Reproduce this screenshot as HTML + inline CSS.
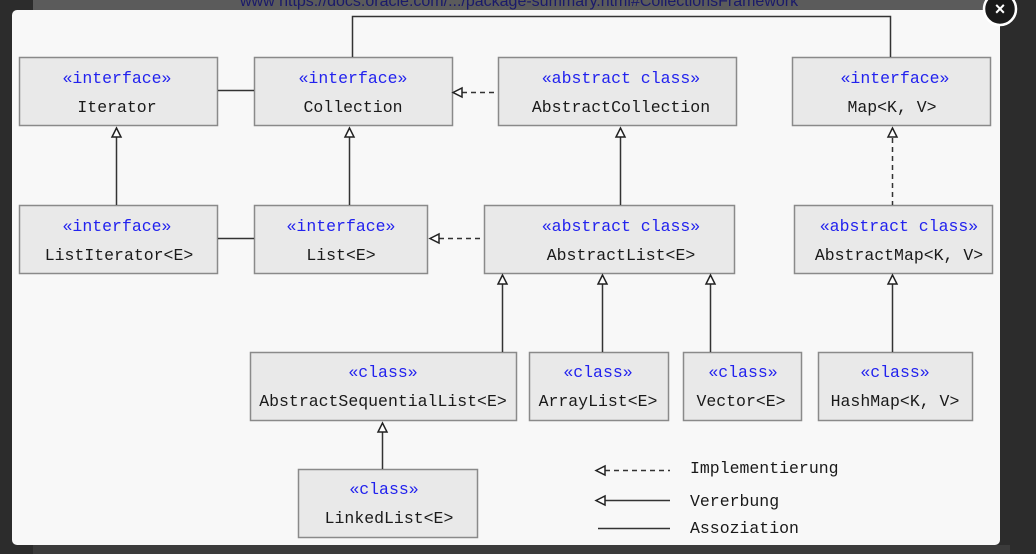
<!DOCTYPE html>
<html><head><meta charset="utf-8"><style>
html,body{margin:0;padding:0;width:1036px;height:554px;overflow:hidden;background:#2c2c2c}
svg{display:block}
</style></head><body>
<svg width="1036" height="554" xmlns="http://www.w3.org/2000/svg" font-family="'Liberation Mono', monospace" font-size="16.5">
<rect x="0" y="0" width="1036" height="554" fill="#2c2c2c"/>
<rect x="33" y="0" width="977" height="14" fill="#5b5b5b"/>
<rect x="33" y="545" width="977" height="9" fill="#3b3b3b"/>
<text x="240" y="6" font-family="'Liberation Sans',sans-serif" font-size="16" fill="#1a1a6a">www https://docs.oracle.com/.../package-summary.html#CollectionsFramework</text>
<rect x="12" y="10" width="988" height="535" rx="5" fill="#f8f8f8"/>
<circle cx="1000" cy="9" r="16" fill="#1a1a1a" stroke="#fff" stroke-width="2.5"/>
<text x="1000" y="15" text-anchor="middle" font-family="'Liberation Sans',sans-serif" font-weight="bold" font-size="18" fill="#fff">×</text>

<g fill="#e9e9e9" stroke="#8a8a8a" stroke-width="1.5">
<rect x="19.5" y="57.5" width="198" height="68"/>
<rect x="254.5" y="57.5" width="198" height="68"/>
<rect x="498.5" y="57.5" width="238" height="68"/>
<rect x="792.5" y="57.5" width="198" height="68"/>
<rect x="19.5" y="205.5" width="198" height="68"/>
<rect x="254.5" y="205.5" width="173" height="68"/>
<rect x="484.5" y="205.5" width="250" height="68"/>
<rect x="794.5" y="205.5" width="198" height="68"/>
<rect x="250.5" y="352.5" width="266" height="68"/>
<rect x="529.5" y="352.5" width="139" height="68"/>
<rect x="683.5" y="352.5" width="118" height="68"/>
<rect x="818.5" y="352.5" width="154" height="68"/>
<rect x="298.5" y="469.5" width="179" height="68"/>
</g>

<g fill="#2222ee" text-anchor="middle">
<text x="117" y="83">«interface»</text>
<text x="353" y="83">«interface»</text>
<text x="621" y="83">«abstract class»</text>
<text x="895" y="83">«interface»</text>
<text x="117" y="231">«interface»</text>
<text x="341" y="231">«interface»</text>
<text x="621" y="231">«abstract class»</text>
<text x="899" y="231">«abstract class»</text>
<text x="383" y="377">«class»</text>
<text x="598" y="377">«class»</text>
<text x="743" y="377">«class»</text>
<text x="895" y="377">«class»</text>
<text x="384" y="494">«class»</text>
</g>
<g fill="#1a1a1a" text-anchor="middle">
<text x="117" y="112">Iterator</text>
<text x="353" y="112">Collection</text>
<text x="621" y="112">AbstractCollection</text>
<text x="892" y="112">Map&lt;K, V&gt;</text>
<text x="119" y="260">ListIterator&lt;E&gt;</text>
<text x="341" y="260">List&lt;E&gt;</text>
<text x="621" y="260">AbstractList&lt;E&gt;</text>
<text x="899" y="260">AbstractMap&lt;K, V&gt;</text>
<text x="383" y="406">AbstractSequentialList&lt;E&gt;</text>
<text x="598" y="406">ArrayList&lt;E&gt;</text>
<text x="741" y="406">Vector&lt;E&gt;</text>
<text x="895" y="406">HashMap&lt;K, V&gt;</text>
<text x="389" y="523">LinkedList&lt;E&gt;</text>
</g>

<g stroke="#333" stroke-width="1.5" fill="none">
<polyline points="352.5,57 352.5,16.5 890.5,16.5 890.5,57"/>
<line x1="218" y1="90.5" x2="254" y2="90.5"/>
<line x1="218" y1="238.5" x2="254" y2="238.5"/>
<line x1="462" y1="92.5" x2="498" y2="92.5" stroke-dasharray="5,4"/>
<line x1="439" y1="238.5" x2="484" y2="238.5" stroke-dasharray="5,4"/>
<line x1="892.5" y1="138" x2="892.5" y2="205" stroke-dasharray="5,4"/>
<line x1="116.5" y1="137" x2="116.5" y2="205"/>
<line x1="349.5" y1="137" x2="349.5" y2="205"/>
<line x1="620.5" y1="137" x2="620.5" y2="205"/>
<line x1="502.5" y1="284" x2="502.5" y2="352"/>
<line x1="602.5" y1="284" x2="602.5" y2="352"/>
<line x1="710.5" y1="284" x2="710.5" y2="352"/>
<line x1="892.5" y1="284" x2="892.5" y2="352"/>
<line x1="382.5" y1="432" x2="382.5" y2="469"/>
<line x1="605" y1="470.5" x2="670" y2="470.5" stroke-dasharray="5,4"/>
<line x1="605" y1="500.5" x2="670" y2="500.5"/>
<line x1="598" y1="528.5" x2="670" y2="528.5"/>
</g>
<g stroke="#222" stroke-width="1.5" fill="#fff">
<polygon points="116.5,128 112,137 121,137"/>
<polygon points="349.5,128 345,137 354,137"/>
<polygon points="620.5,128 616,137 625,137"/>
<polygon points="892.5,128 888,137 897,137"/>
<polygon points="502.5,275 498,284 507,284"/>
<polygon points="602.5,275 598,284 607,284"/>
<polygon points="710.5,275 706,284 715,284"/>
<polygon points="892.5,275 888,284 897,284"/>
<polygon points="382.5,423 378,432 387,432"/>
<polygon points="453,92.5 462,88 462,97"/>
<polygon points="430,238.5 439,234 439,243"/>
<polygon points="596,470.5 605,466 605,475"/>
<polygon points="596,500.5 605,496 605,505"/>
</g>
<g fill="#1a1a1a">
<text x="690" y="473">Implementierung</text>
<text x="690" y="506">Vererbung</text>
<text x="690" y="533">Assoziation</text>
</g>
</svg>
</body></html>
